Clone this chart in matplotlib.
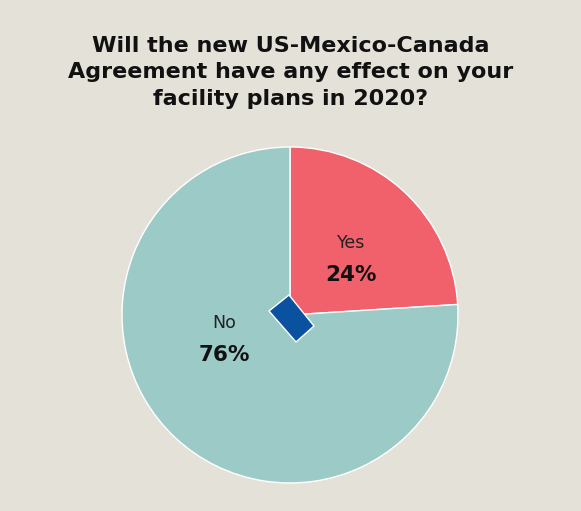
import numpy as np
import matplotlib.pyplot as plt
from matplotlib.patches import Polygon

# data
labels = ["Yes", "No"]
values = [24, 76]
colors = ["#f0616b", "#9ccbc7"]
title = "Will the new US-Mexico-Canada\nAgreement have any effect on your\nfacility plans in 2020?"

bg = "#e4e1d9"
plt.rcParams['font.family'] = ['DejaVu Sans']

fig = plt.figure(figsize=(5.81, 5.11), dpi=100, facecolor=bg)
# pie centred at (290, 315) px, radius 168 px
ax = fig.add_axes([122 / 581, (511 - 315 - 168) / 511, 336 / 581, 336 / 511])
ax.set_facecolor(bg)

wedges, _ = ax.pie(values, colors=colors, startangle=90, counterclock=False,
                   wedgeprops=dict(edgecolor="white", linewidth=1))
ax.set_xlim(-1, 1)
ax.set_ylim(-1, 1)
ax.axis("off")

# label positions (angle in degrees, radius fraction) per wedge
label_pos = [(42, 0.49), (201, 0.42)]
for lab, val, (ang, r) in zip(labels, values, label_pos):
    x = r * np.cos(np.radians(ang))
    y = r * np.sin(np.radians(ang))
    ax.text(x, y + 0.1, lab, ha="center", va="center", fontsize=12.5, color="#222222")
    ax.text(x, y - 0.09, f"{val}%", ha="center", va="center", fontsize=15.5,
            fontweight="bold", color="#111111")

# blue decorative block in the centre
corners_px = np.array([(269, 311), (289, 295), (314, 326), (296, 342)], dtype=float)
corners = np.column_stack([(corners_px[:, 0] - 290) / 168, (315 - corners_px[:, 1]) / 168])
ax.add_patch(Polygon(corners, closed=True, facecolor="#0a52a0", edgecolor="white",
                     linewidth=1, zorder=5))

fig.text(0.5, 0.93, title, ha="center", va="top", fontsize=16, fontweight="bold",
         color="#111111", linespacing=1.42)

fig.savefig("out.png", dpi=100, facecolor=bg)
